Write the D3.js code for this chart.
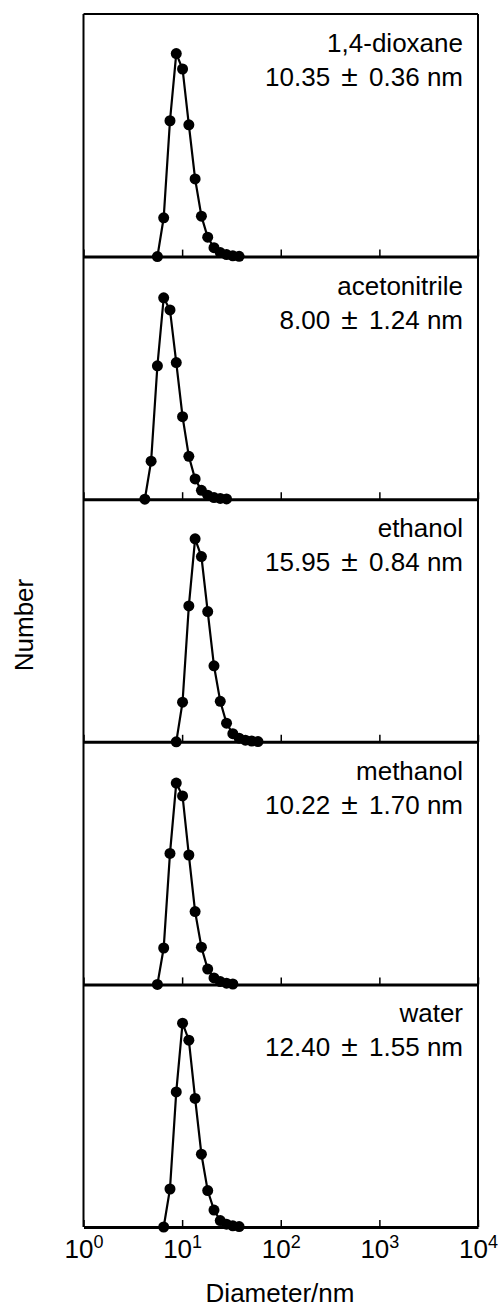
<!DOCTYPE html>
<html>
<head>
<meta charset="utf-8">
<script src="https://cdn.jsdelivr.net/npm/d3@7"></script>
<style>
  body { margin: 0; background: #fff; }
  svg { display: block; font-family: "Liberation Sans", Arial, sans-serif; }
</style>
</head>
<body>
<script>
// size bins (nm) and number distribution (%)
const dioxaneD = [5.615, 6.503, 7.531, 8.721, 10.1, 11.7, 13.54, 15.69, 18.17, 21.04, 24.36, 28.21, 32.67, 37.84];
const dioxaneN = [0, 4.8, 16.8, 25.1, 23.2, 16.3, 9.6, 5.0, 2.4, 1.1, 0.5, 0.25, 0.1, 0.03];

const acetonitrileD = [4.187, 4.849, 5.615, 6.503, 7.531, 8.721, 10.1, 11.7, 13.54, 15.69, 18.17, 21.04, 24.36, 28.21];
const acetonitrileN = [0, 4.7, 16.5, 24.9, 23.4, 16.9, 10.2, 5.3, 2.5, 1.1, 0.5, 0.2, 0.1, 0.03];

const ethanolD = [8.721, 10.1, 11.7, 13.54, 15.69, 18.17, 21.04, 24.36, 28.21, 32.67, 37.84, 43.82, 50.75, 58.77];
const ethanolN = [0, 4.9, 16.8, 25.1, 22.9, 16.1, 9.4, 5.0, 2.3, 1.0, 0.45, 0.2, 0.1, 0.03];

const methanolD = [5.615, 6.503, 7.531, 8.721, 10.1, 11.7, 13.54, 15.69, 18.17, 21.04, 24.36, 28.21, 32.67];
const methanolN = [0, 4.5, 16.2, 24.9, 23.3, 16.0, 9.0, 4.6, 1.9, 0.8, 0.35, 0.15, 0.05];

const waterD = [6.503, 7.531, 8.721, 10.1, 11.7, 13.54, 15.69, 18.17, 21.04, 24.36, 28.21, 32.67, 37.84];
const waterN = [0, 4.7, 16.7, 25.2, 23.1, 15.9, 9.0, 4.5, 2.1, 0.8, 0.35, 0.15, 0.05];

const solvents = ["1,4-dioxane", "acetonitrile", "ethanol", "methanol", "water"];
const sizeMean = ["10.35", "8.00", "15.95", "10.22", "12.40"];
const sizeErr = ["0.36", "1.24", "0.84", "1.70", "1.55"];
const xTicks = [1, 10, 100, 1000, 10000];
const xTickExp = ["0", "1", "2", "3", "4"];

const panels = [
  [dioxaneD, dioxaneN],
  [acetonitrileD, acetonitrileN],
  [ethanolD, ethanolN],
  [methanolD, methanolN],
  [waterD, waterN],
];

const width = 499;
const height = 1307;
const margin = { top: 14, left: 83.5, right: 21 };
const panelH = 242.6;

const svg = d3.select("body").append("svg")
  .attr("width", width)
  .attr("height", height);

const x = d3.scaleLog()
  .domain([1, 10000])
  .range([margin.left, width - margin.right]);

panels.forEach(([ds, ns], i) => {
  const top = margin.top + i * panelH;
  const bottom = top + panelH;
  const y = d3.scaleLinear().domain([0, 30]).range([bottom, top]);

  const g = svg.append("g");

  const pts = ds.map((d, j) => ({ d: d, n: ns[j] }));

  g.append("path")
    .datum(pts)
    .attr("fill", "none")
    .attr("stroke", "#000")
    .attr("stroke-width", 2.2)
    .attr("d", d3.line().x(p => x(p.d)).y(p => y(p.n)));

  g.selectAll("circle")
    .data(pts)
    .join("circle")
    .attr("cx", p => x(p.d))
    .attr("cy", p => y(p.n))
    .attr("r", 5.5)
    .attr("fill", "#000");

  const axis = svg.append("g")
    .attr("transform", "translate(0," + bottom + ")")
    .call(d3.axisBottom(x).tickValues(xTicks).tickSizeInner(-7).tickSizeOuter(0).tickFormat(""));
  axis.select(".domain").attr("stroke-width", 3);
  axis.selectAll(".tick line").attr("stroke-width", 1.5);

  if (i === panels.length - 1) {
    const lab = axis.selectAll(".tick").append("text")
      .attr("fill", "#000")
      .attr("y", 31)
      .attr("text-anchor", "middle")
      .style("font-size", "26px");
    lab.append("tspan").text("10");
    lab.append("tspan")
      .attr("dy", -10)
      .style("font-size", "18px")
      .text((d, k) => xTickExp[k]);
  }

  g.append("text")
    .attr("x", 463)
    .attr("y", top + 38)
    .attr("text-anchor", "end")
    .style("font-size", "26px")
    .text(solvents[i]);

  // the ± is a bit bigger and spaced out in the original
  const t = g.append("text")
    .attr("x", 463)
    .attr("y", top + 72)
    .attr("text-anchor", "end")
    .style("font-size", "26px");
  t.append("tspan").text(sizeMean[i] + " ");
  t.append("tspan").attr("dx", 4).style("font-size", "30px").text("\u00b1");
  t.append("tspan").attr("dx", 4).text(" " + sizeErr[i] + " nm");
});

// frame: top, left, right
const yEnd = margin.top + panels.length * panelH;
svg.append("line")
  .attr("x1", x(1)).attr("x2", x(10000))
  .attr("y1", margin.top).attr("y2", margin.top)
  .attr("stroke", "#000").attr("stroke-width", 2);
svg.append("line")
  .attr("x1", x(1)).attr("x2", x(1))
  .attr("y1", margin.top).attr("y2", yEnd)
  .attr("stroke", "#000").attr("stroke-width", 2);
svg.append("line")
  .attr("x1", x(10000)).attr("x2", x(10000))
  .attr("y1", margin.top).attr("y2", yEnd)
  .attr("stroke", "#000").attr("stroke-width", 2);

svg.append("text")
  .attr("transform", "translate(33," + 625 + ") rotate(-90)")
  .attr("text-anchor", "middle")
  .style("font-size", "26px")
  .text("Number");

svg.append("text")
  .attr("x", 280)
  .attr("y", 1302)
  .attr("text-anchor", "middle")
  .style("font-size", "26px")
  .text("Diameter/nm");
</script>
</body>
</html>
